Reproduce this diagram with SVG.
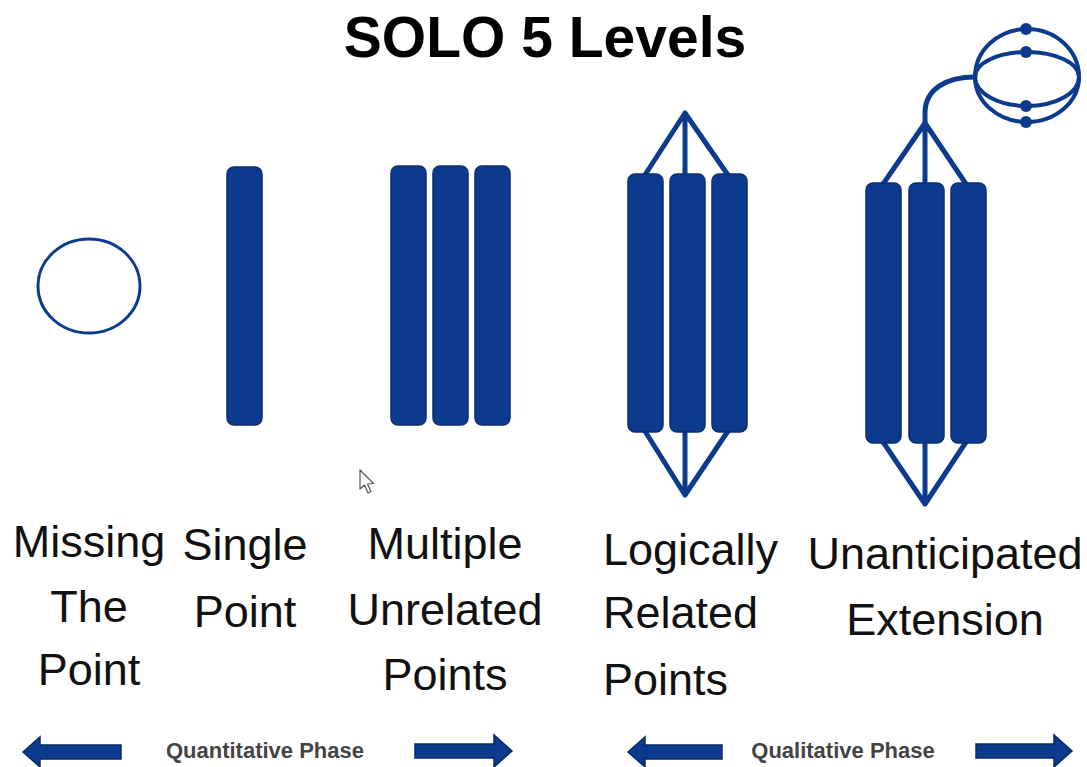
<svg xmlns="http://www.w3.org/2000/svg" width="1087" height="767" viewBox="0 0 1087 767">
<style>
.bar{fill:#0c3b8d;stroke:#0a2f73;stroke-width:1.5}
.ln{fill:none;stroke:#0c3b8d;stroke-width:5;stroke-linecap:round;stroke-linejoin:round}
.lbl{font-family:"Liberation Sans",Arial,sans-serif;font-size:45px;fill:#111;text-anchor:middle}
.ph{font-family:"Liberation Sans",Arial,sans-serif;font-size:22px;font-weight:bold;fill:#444;text-anchor:middle}
.arr{fill:#0c3b8d;stroke:#0a2a66;stroke-width:1.5}
.dot{fill:#0c3b8d}
</style>
<rect width="1087" height="767" fill="#ffffff"/>
<text x="545" y="57" font-family="Liberation Sans, Arial, sans-serif" font-size="57" font-weight="bold" text-anchor="middle" fill="#000">SOLO 5 Levels</text>

<g id="missing">
<ellipse cx="89" cy="286" rx="51" ry="47" fill="none" stroke="#0c3b8d" stroke-width="3"/>
<text class="lbl" x="89" y="557">Missing</text>
<text class="lbl" x="89" y="622">The</text>
<text class="lbl" x="89" y="685">Point</text>
</g>

<g id="single">
<rect class="bar" x="227" y="167" width="35" height="258" rx="7"/>
<text class="lbl" x="245" y="560">Single</text>
<text class="lbl" x="245" y="627">Point</text>
</g>

<g id="multiple">
<rect class="bar" x="391" y="166" width="35" height="259" rx="7"/>
<rect class="bar" x="433" y="166" width="35" height="259" rx="7"/>
<rect class="bar" x="475" y="166" width="35" height="259" rx="7"/>
<text class="lbl" x="445" y="559">Multiple</text>
<text class="lbl" x="445" y="625">Unrelated</text>
<text class="lbl" x="445" y="690">Points</text>
</g>

<g id="connectors">
<path class="ln" d="M643,178 L685,113 L730,178 M685,113 L685,178"/>
<path class="ln" d="M643,428 L685,495 L730,428 M685,428 L685,495"/>
<path class="ln" d="M881,187 L925,123 L968,187 M925,123 L925,187"/>
<path class="ln" d="M881,439 L925,504 L968,439 M925,439 L925,504"/>
<path class="ln" d="M925,123 L925,113 C925,88 948,77 975,77"/>
</g>

<g id="logical">
<rect class="bar" x="628" y="174" width="35" height="258" rx="7"/>
<rect class="bar" x="670" y="174" width="35" height="258" rx="7"/>
<rect class="bar" x="712" y="174" width="35" height="258" rx="7"/>
<text class="lbl" x="603" y="565" text-anchor="start" style="text-anchor:start">Logically</text>
<text class="lbl" x="603" y="628" style="text-anchor:start">Related</text>
<text class="lbl" x="603" y="695" style="text-anchor:start">Points</text>
</g>

<g id="extended">
<rect class="bar" x="866" y="183" width="35" height="260" rx="7"/>
<rect class="bar" x="909" y="183" width="35" height="260" rx="7"/>
<rect class="bar" x="951" y="183" width="35" height="260" rx="7"/>
<path class="ln" style="stroke-width:4" d="M975,77 A52,48 0 0 1 1079,77 A52,29 0 0 1 975,77 Z"/>
<path class="ln" style="stroke-width:4" d="M975,77 A52,25 0 0 1 1079,77 A52,45 0 0 1 975,77 Z"/>
<circle class="dot" cx="1026" cy="29" r="6"/>
<circle class="dot" cx="1026" cy="52" r="6"/>
<circle class="dot" cx="1026" cy="106" r="6"/>
<circle class="dot" cx="1026" cy="122" r="6"/>
<text class="lbl" x="945" y="569">Unanticipated</text>
<text class="lbl" x="945" y="635">Extension</text>
</g>

<g id="quantitative">
<path class="arr" d="M23,752 L40,737 L40,745 L121,745 L121,759 L40,759 L40,767 Z"/>
<path class="arr" d="M415,744 L494,744 L494,735 L512,751 L494,767 L494,758 L415,758 Z"/>
<text class="ph" x="265" y="758">Quantitative Phase</text>
</g>

<g id="qualitative">
<path class="arr" d="M628,752 L645,737 L645,745 L722,745 L722,759 L645,759 L645,767 Z"/>
<path class="arr" d="M976,744 L1054,744 L1054,735 L1072,751 L1054,767 L1054,758 L976,758 Z"/>
<text class="ph" x="843" y="758">Qualitative Phase</text>
</g>

<path d="M360,470 L360,489 L364.5,485 L368,493 L371,491.5 L367.5,484 L373.5,483.5 Z" fill="#fff" stroke="#555" stroke-width="1.2" stroke-linejoin="round"/>
</svg>
